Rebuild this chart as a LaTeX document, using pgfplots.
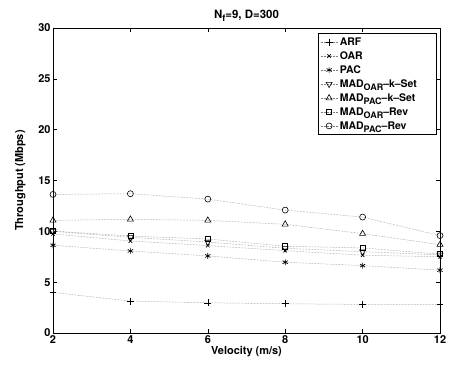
\documentclass[border=0pt]{standalone}
\usepackage{fontspec}
\setmainfont{TeX Gyre Heros}
\usepackage{pgfplots}
\pgfplotsset{compat=1.18}
\newcommand{\subt}[1]{\raisebox{-3.2pt}{\fontsize{9}{9}\selectfont #1}}
\newcommand{\legbox}[1]{\makebox[92bp][l]{#1}}
\begin{document}
\begin{tikzpicture}
\begin{axis}[
  name=ax,
  scale only axis,
  width=387bp, height=305bp,
  xmin=2, xmax=12, ymin=0, ymax=30,
  xtick={2,4,6,8,10,12}, ytick={0,5,10,15,20,25,30},
  tick align=inside,
  major tick length=4bp,
  /pgf/number format/assume math mode=true,
  tick label style={font=\fontsize{11}{12}\selectfont\bfseries},
  yticklabel style={xshift=1bp},
  xticklabel style={yshift=1bp},
  xlabel={Velocity (m/s)},
  ylabel={Throughput (Mbps)},
  label style={font=\fontsize{11}{12}\selectfont\bfseries},
  xlabel style={yshift=4bp},
  ylabel style={yshift=6bp},
  title={N\subt{f}=9, D=300},
  title style={font=\fontsize{11.5}{12}\selectfont\bfseries, yshift=-3bp},
  axis line style={line width=0.8pt},
  every tick/.style={line width=0.6pt, black},
  legend style={at={(0.99,0.983)}, anchor=north east, draw=black, line width=0.6pt,
    font=\fontsize{10.5}{11}\selectfont\bfseries, row sep=0.8pt, inner sep=2pt,
    cells={anchor=west}},
  legend cell align=left,
  every axis plot/.append style={densely dotted, gray, line width=0.5pt},
]
\addplot[mark=+, mark size=3.5pt, mark options={solid, black, line width=0.6pt}] coordinates {(2,3.99) (4,3.14) (6,2.97) (8,2.88) (10,2.81) (12,2.78)};
\addlegendentry{\legbox{ARF}}
\addplot[mark=x, mark size=2.5pt, mark options={solid, black, line width=0.6pt}] coordinates {(2,9.74) (4,9.05) (6,8.6) (8,8.1) (10,7.65) (12,7.5)};
\addlegendentry{\legbox{OAR}}
\addplot[mark=asterisk, mark size=3pt, mark options={solid, black, line width=0.7pt}] coordinates {(2,8.63) (4,8.07) (6,7.58) (8,6.96) (10,6.63) (12,6.18)};
\addlegendentry{\legbox{PAC}}
\addplot[mark=triangle, mark size=3.5pt, mark options={solid, black, line width=0.6pt, rotate=180}] coordinates {(2,10.0) (4,9.41) (6,8.95) (8,8.33) (10,8.0) (12,7.68)};
\addlegendentry{\legbox{MAD\subt{OAR}--k--Set}}
\addplot[mark=triangle, mark size=3.5pt, mark options={solid, black, line width=0.6pt}] coordinates {(2,11.08) (4,11.18) (6,11.08) (8,10.69) (10,9.77) (12,8.69)};
\addlegendentry{\legbox{MAD\subt{PAC}--k--Set}}
\addplot[mark=square, mark size=2.6pt, mark options={solid, black, line width=0.6pt}] coordinates {(2,10.03) (4,9.54) (6,9.25) (8,8.53) (10,8.37) (12,7.75)};
\addlegendentry{\legbox{MAD\subt{OAR}--Rev}}
\addplot[mark=o, mark size=3pt, mark options={solid, black, line width=0.6pt}] coordinates {(2,13.63) (4,13.7) (6,13.17) (8,12.09) (10,11.4) (12,9.58)};
\addlegendentry{\legbox{MAD\subt{PAC}--Rev}}
\end{axis}
\path ([xshift=-53bp,yshift=-36bp]ax.south west) rectangle ([xshift=19bp,yshift=28bp]ax.north east);
\end{tikzpicture}
\end{document}
